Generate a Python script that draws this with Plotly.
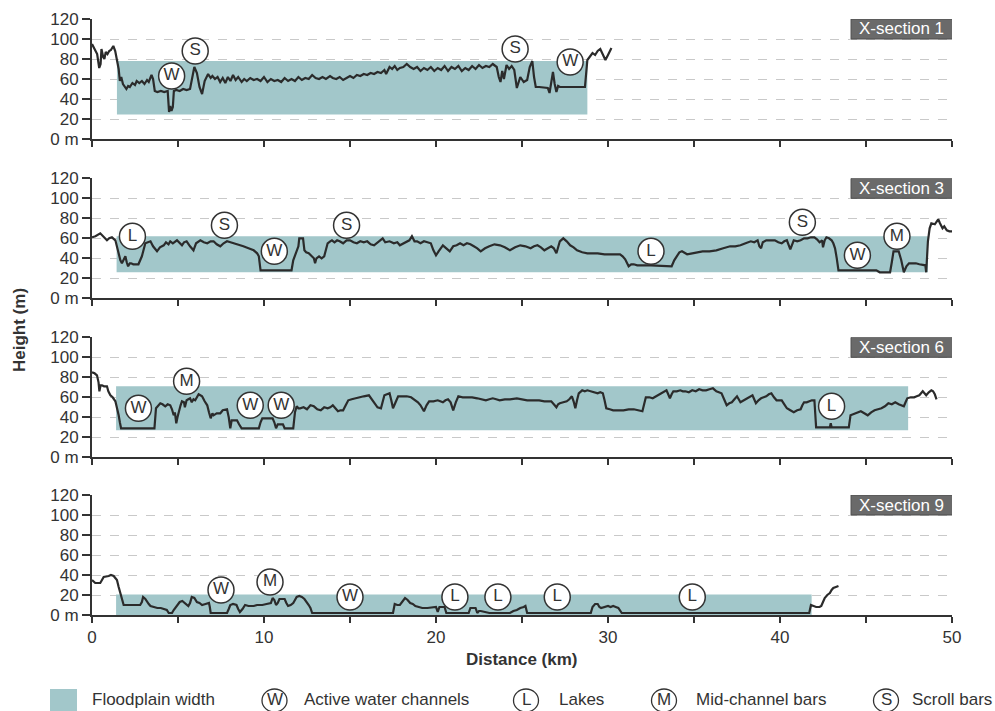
import plotly.graph_objects as go

# ---------------- data ----------------
panel_titles = ["X-section 1", "X-section 3", "X-section 6", "X-section 9"]

# floodplain extents (km) and height band (m)
fp_start = [1.45, 1.43, 1.4, 1.4]
fp_end = [28.8, 48.6, 47.45, 41.84]
fp_bottom = [24.5, 26, 27, 0]
fp_top = [78, 62, 71, 20.5]

# X-section 1 profile
x1 = [0.0, 0.15, 0.3, 0.42, 0.5, 0.55, 0.65, 0.72, 0.8, 0.9, 1.0, 1.1, 1.24, 1.35, 1.45, 1.55, 1.62, 1.7, 1.8, 1.9,
      2.0, 2.1, 2.2, 2.35, 2.5, 2.6, 2.75, 2.9, 3.05, 3.2, 3.3, 3.46, 3.55, 3.65, 3.8, 4.0, 4.2, 4.4, 4.48, 4.55,
      4.62, 4.7, 4.76, 4.9, 5.1, 5.3, 5.5, 5.7, 5.8, 5.95, 6.1, 6.25, 6.4, 6.55, 6.75, 6.9, 7.0, 7.15, 7.3, 7.45,
      7.6, 7.75, 7.9, 8.05, 8.2, 8.35, 8.5, 8.7, 8.85, 9.0, 9.2, 9.4, 9.6, 9.8, 10.0, 10.2, 10.4, 10.6, 10.8, 11.0,
      11.2, 11.4, 11.6, 11.8, 12.0, 12.2, 12.4, 12.6, 12.8, 13.0, 13.2, 13.4, 13.6, 13.84, 14.0, 14.2, 14.4, 14.6,
      14.8, 15.0, 15.2, 15.4, 15.6, 15.8, 16.0, 16.2, 16.4, 16.6, 16.8, 17.0, 17.1, 17.3, 17.45, 17.6, 17.75, 17.9,
      18.1, 18.3, 18.5, 18.7, 18.9, 19.1, 19.3, 19.5, 19.7, 19.9, 20.1, 20.3, 20.5, 20.7, 20.9, 21.1, 21.3, 21.5,
      21.7, 21.9, 22.1, 22.3, 22.5, 22.7, 22.9, 23.1, 23.3, 23.53, 23.65, 23.75, 23.85, 23.95, 24.1, 24.25, 24.4,
      24.55, 24.7, 24.8, 24.9, 25.1, 25.3, 25.45, 25.6, 25.7, 25.8, 26.0, 26.3, 26.5, 26.6, 26.7, 26.8, 26.9, 27.0,
      27.1, 27.2, 27.6, 28.0, 28.66, 28.8, 29.0, 29.1, 29.25, 29.4, 29.55, 29.7, 29.85, 30.0, 30.2]
y1 = [95, 90, 85, 71, 75, 90, 82, 80, 87, 85, 88, 89, 93, 88, 80, 70, 58, 62, 55, 52,
      50, 53, 52, 56, 54, 58, 56, 58, 55, 59, 57, 64, 60, 48, 47, 48, 47, 48, 27, 33,
      28, 32, 48, 49, 48, 50, 49, 50, 60, 72, 66, 52, 45, 58, 65, 61, 63, 60, 62, 57,
      61, 56, 62, 58, 64, 59, 62, 57, 60, 58, 61, 59, 60, 58, 62, 57, 60, 58, 59, 57,
      61, 58, 60, 58, 62, 59, 61, 60, 64, 61, 60, 62, 60, 63, 61, 60, 62, 59,
      61, 63, 61, 64, 63, 65, 64, 66, 65, 67, 66, 69, 65, 72, 70, 73, 69, 71,
      72, 75, 72, 70, 72, 68, 71, 69, 72, 68, 71, 69, 73, 68, 72, 70, 73, 68,
      71, 69, 73, 70, 74, 71, 73, 72, 75, 72, 62, 57, 68, 60, 74, 70, 73,
      69, 51, 58, 62, 57, 59, 72, 78, 62, 52, 52, 51, 51, 46, 56, 67, 55, 47,
      53, 52, 52, 52, 52, 79, 83, 86, 84, 88, 90, 85, 79, 84, 91]

# X-section 3 profile
x2 = [0, 0.2, 0.48, 0.65, 0.87, 1.0, 1.16, 1.36, 1.45, 1.55, 1.65, 1.74, 1.85, 1.94, 2.02, 2.1, 2.2, 2.27, 2.4, 2.7,
      2.9, 3.0, 3.1, 3.25, 3.4, 3.55, 3.78, 3.95, 4.17, 4.3, 4.45, 4.55, 4.7, 4.94, 5.1, 5.23, 5.35, 5.5, 5.7, 5.9,
      6.05, 6.3, 6.5, 6.7, 6.9, 7.07, 7.25, 7.46, 7.65, 7.85, 8.05, 8.24, 8.5, 8.8, 9.1, 9.4, 9.6, 9.7, 9.8, 10.5,
      11.0, 11.6, 11.7, 11.9, 12.0, 12.05, 12.27, 12.35, 12.45, 12.6, 12.7, 12.8, 12.9, 12.97, 13.05, 13.2, 13.35,
      13.5, 13.6, 13.7, 13.85, 13.95, 14.1, 14.25, 14.4, 14.6, 14.8, 15.0, 15.2, 15.4, 15.6, 15.8, 16.0, 16.2, 16.4,
      16.6, 16.75, 16.9, 17.05, 17.3, 17.55, 17.75, 17.9, 18.1, 18.3, 18.45, 18.6, 18.75, 18.9, 19.1, 19.3, 19.5,
      19.7, 19.85, 20.0, 20.15, 20.4, 20.6, 20.8, 21.0, 21.2, 21.4, 21.6, 21.8, 22.0, 22.2, 22.4, 22.6, 22.85, 23.1,
      23.4, 23.72, 24.0, 24.3, 24.6, 24.9, 25.2, 25.5, 25.7, 25.9, 26.1, 26.3, 26.5, 26.7, 26.85, 27.0, 27.2, 27.4,
      27.6, 27.8, 28.0, 28.2, 28.5, 28.8, 29.1, 29.4, 29.8, 30.1, 30.4, 30.7, 30.85, 31.0, 31.2, 31.35, 31.5, 31.7,
      32.5, 33.7, 33.85, 34.0, 34.15, 34.3, 34.6, 34.9, 35.2, 35.5, 35.9, 36.3, 36.7, 37.1, 37.4, 37.7, 38.0, 38.3,
      38.5, 38.7, 38.8, 38.9, 39.0, 39.2, 39.45, 39.7, 39.9, 40.1, 40.25, 40.4, 40.6, 40.8, 41.0, 41.2, 41.4, 41.6,
      41.8, 42.0, 42.15, 42.3, 42.45, 42.5, 42.6, 42.7, 42.85, 43.0, 43.1, 43.2, 43.3, 43.4, 44.5, 45.6, 45.8, 46.4,
      46.5, 46.6, 46.9, 47.05, 47.2, 47.35, 47.5, 47.9, 48.1, 48.3, 48.45, 48.5, 48.6, 48.7, 48.8, 49.0, 49.2, 49.3,
      49.45, 49.55, 49.7, 49.85, 50.0]
y2 = [61, 62, 65, 62, 58, 60, 61, 58, 52, 45, 38, 35, 40, 42, 36, 32, 35, 35, 34, 34,
      42, 50, 55, 56, 57, 52, 47, 51, 53, 56, 54, 57, 55, 58, 55, 53, 56, 57, 52, 48,
      55, 58, 56, 55, 57, 57, 54, 52, 55, 57, 56, 55, 54, 52, 50, 48, 45, 42, 28, 28,
      28, 28, 38, 48, 52, 60, 60, 48, 46, 45, 43, 42, 40, 35, 40, 42, 40,
      42, 48, 55, 57, 58, 56, 58, 57, 55, 58, 58, 56, 55, 57, 56, 57, 54, 53,
      56, 58, 60, 56, 57, 55, 56, 53, 55, 57, 58, 62, 57, 57, 55, 57, 56,
      55, 48, 43, 47, 53, 50, 47, 52, 53, 55, 53, 55, 54, 52, 50, 47, 50, 52,
      54, 53, 51, 48, 51, 53, 52, 50, 52, 53, 51, 48, 50, 52, 50, 45, 57, 60,
      57, 53, 51, 48, 46, 45, 45, 45, 44, 44, 44, 44, 42, 39, 32, 34, 34, 33,
      33, 32, 38, 42, 46, 47, 44, 45, 46, 47, 47, 48, 50, 52, 52, 53, 55, 57,
      56, 58, 52, 50, 56, 58, 58, 58, 56, 55, 57, 58, 49, 58, 57, 58, 60, 60,
      61, 61, 59, 56, 58, 51, 58, 61, 60, 58, 55, 50, 40, 28, 28, 28, 26, 26,
      36, 47, 47, 38, 26, 32, 35, 35, 34, 33, 33, 26, 57, 70, 75, 74, 79, 75,
      70, 72, 68, 67, 67]

# X-section 6 profile
x3 = [0, 0.15, 0.29, 0.38, 0.43, 0.5, 0.58, 0.7, 0.87, 0.95, 1.07, 1.2, 1.36, 1.45, 1.55, 1.62, 1.69, 2.5, 3.63, 3.72,
      3.85, 3.97, 4.1, 4.26, 4.4, 4.55, 4.65, 4.75, 4.82, 4.9, 4.97, 5.04, 5.15, 5.23, 5.35, 5.4, 5.5, 5.6, 5.7, 5.8,
      5.9, 6.0, 6.1, 6.2, 6.3, 6.4, 6.55, 6.7, 6.8, 6.9, 7.0, 7.07, 7.25, 7.46, 7.6, 7.85, 7.95, 8.04, 8.12, 8.24,
      8.43, 8.55, 8.7, 9.2, 9.7, 9.8, 9.9, 10.5, 10.6, 10.7, 10.8, 11.1, 11.2, 11.3, 11.7, 11.8, 11.9, 12.0, 12.1,
      12.3, 12.5, 12.7, 12.9, 13.1, 13.3, 13.5, 13.7, 13.85, 14.0, 14.15, 14.3, 14.45, 14.6, 14.75, 14.9, 15.1, 15.3,
      15.5, 15.8, 16.1, 16.25, 16.4, 16.6, 16.8, 16.9, 17.0, 17.15, 17.3, 17.4, 17.5, 17.65, 17.8, 18.05, 18.3,
      18.55, 18.8, 18.95, 19.1, 19.2, 19.3, 19.45, 19.6, 19.85, 20.1, 20.25, 20.4, 20.55, 20.7, 20.85, 21.0, 21.15,
      21.3, 21.55, 21.8, 22.1, 22.4, 22.65, 22.9, 23.1, 23.3, 23.5, 23.7, 24.0, 24.3, 24.7, 25.0, 25.3, 25.7, 26.0,
      26.3, 26.7, 26.85, 27.0, 27.1, 27.2, 27.4, 27.6, 27.75, 27.9, 28.0, 28.1, 28.2, 28.3, 28.5, 28.65, 28.8, 29.0,
      29.1, 29.25, 29.4, 29.55, 29.7, 29.8, 29.9, 30.1, 30.3, 30.6, 30.9, 31.2, 31.5, 31.75, 32.0, 32.1, 32.2, 32.4,
      32.6, 32.8, 33.0, 33.2, 33.4, 33.5, 33.6, 33.7, 33.8, 34.0, 34.2, 34.35, 34.5, 34.7, 34.9, 35.1, 35.3, 35.5,
      35.7, 35.9, 36.1, 36.3, 36.45, 36.6, 36.75, 36.9, 37.05, 37.2, 37.35, 37.5, 37.6, 37.7, 37.9, 38.1, 38.25,
      38.4, 38.5, 38.6, 38.75, 38.9, 39.05, 39.2, 39.35, 39.5, 39.65, 39.8, 40.0, 40.1, 40.25, 40.4, 40.6, 40.8,
      41.0, 41.2, 41.3, 41.4, 41.55, 41.7, 41.85, 42.0, 42.1, 42.6, 42.9, 42.95, 43.0, 43.5, 44.0, 44.1, 44.25, 44.4,
      44.55, 44.7, 44.9, 45.1, 45.3, 45.5, 45.7, 45.9, 46.1, 46.3, 46.5, 46.7, 46.9, 47.05, 47.2, 47.3, 47.4, 47.6,
      47.8, 47.95, 48.1, 48.2, 48.3, 48.4, 48.5, 48.65, 48.8, 48.9, 49.0, 49.1]
y3 = [85, 84, 82, 75, 66, 72, 72, 71, 71, 66, 62, 60, 56, 50, 42, 35, 29, 29, 29, 49,
      52, 54, 53, 51, 53, 52, 48, 42, 45, 34, 40, 46, 52, 56, 55, 50, 57, 58, 59, 55,
      58, 57, 60, 63, 62, 61, 56, 52, 45, 39, 44, 42, 44, 44, 47, 48, 40, 29, 37, 37,
      37, 33, 29, 29, 29, 35, 39, 39, 35, 29, 33, 33, 29, 29, 29, 45, 51, 49, 49,
      50, 48, 52, 51, 48, 47, 50, 49, 50, 52, 49, 46, 47, 47, 52, 57, 58, 59,
      60, 61, 62, 58, 54, 50, 49, 55, 62, 63, 64, 57, 49, 55, 61, 61, 61,
      60, 57, 55, 52, 49, 46, 52, 56, 56, 57, 56, 55, 57, 58, 55, 47, 55,
      61, 60, 60, 60, 59, 58, 57, 58, 59, 58, 57, 58, 58, 59, 58, 57, 57, 57,
      56, 56, 53, 50, 53, 54, 55, 56, 58, 61, 56, 49, 57, 64, 67, 66, 67, 66,
      65, 64, 64, 65, 64, 57, 49, 48, 47, 47, 47, 48, 48, 47, 46, 53, 60, 60,
      59, 61, 63, 65, 67, 63, 59, 63, 66, 66, 67, 66, 66, 65, 67, 66, 68, 67,
      67, 68, 69, 66, 65, 64, 58, 52, 54, 55, 58, 61, 58, 55, 57, 59, 61,
      62, 58, 54, 57, 59, 60, 61, 63, 64, 60, 57, 57, 57, 53, 49, 47, 45,
      47, 48, 52, 55, 55, 56, 57, 57, 30, 30, 30, 34, 30, 30, 30, 42, 43, 44,
      45, 46, 44, 42, 45, 47, 48, 49, 51, 54, 53, 55, 53, 52, 51, 55, 59, 60,
      60, 61, 62, 64, 66, 64, 62, 65, 67, 66, 63, 58]

# X-section 9 profile
x4 = [0, 0.1, 0.19, 0.48, 0.6, 0.68, 0.97, 1.1, 1.26, 1.45, 1.55, 1.69, 1.75, 1.84, 2.03, 2.4, 2.8, 2.9, 2.97, 3.1,
      3.2, 3.3, 3.4, 3.6, 3.8, 4.0, 4.26, 4.35, 4.46, 4.65, 4.75, 4.85, 4.95, 5.1, 5.25, 5.4, 5.6, 5.7, 5.8, 5.95,
      6.1, 6.25, 6.4, 6.6, 6.8, 6.85, 6.9, 7.4, 7.85, 7.95, 8.04, 8.2, 8.4, 8.5, 8.6, 8.75, 8.9, 9.1, 9.4, 9.6, 9.9,
      10.15, 10.4, 10.5, 10.6, 10.7, 10.8, 10.9, 11.05, 11.2, 11.3, 11.4, 11.55, 11.7, 11.8, 11.9, 12.05, 12.2,
      12.35, 12.5, 12.6, 12.7, 12.8, 14.0, 15.5, 17.5, 17.6, 17.75, 17.9, 18.05, 18.2, 18.35, 18.5, 18.65, 18.8,
      19.0, 19.2, 19.5, 19.8, 20.0, 20.1, 20.2, 20.5, 20.6, 21.2, 21.9, 22.0, 22.3, 22.4, 22.5, 22.6, 22.8, 22.9,
      23.1, 24.3, 24.5, 24.7, 24.9, 25.1, 25.2, 25.3, 27.0, 29.0, 29.1, 29.25, 29.4, 29.5, 29.6, 29.8, 30.0, 30.15,
      30.3, 30.45, 30.6, 30.8, 35.0, 41.7, 41.8, 41.95, 42.1, 42.3, 42.4, 42.5, 42.6, 42.75, 42.9, 43.0, 43.1,
      43.25, 43.4]
y4 = [35, 33, 32, 32, 35, 38, 39, 40, 39, 35, 28, 20, 14, 10, 10, 10, 10, 13, 18, 16,
      13, 11, 9, 8, 7, 7, 5, 5, 2, 2, 5, 7, 10, 13, 14, 12, 9, 12, 18, 17,
      13, 12, 10, 11, 12, 8, 2, 2, 2, 6, 10, 11, 10, 6, 3, 6, 10, 9, 9, 10, 10,
      11, 12, 17, 15, 10, 12, 16, 16, 16, 12, 9, 10, 12, 15, 18, 19, 18,
      16, 13, 10, 7, 2, 2, 2, 2, 11, 10, 10, 14, 17, 15, 12, 11, 9,
      8, 7, 7, 8, 8, 3, 8, 8, 2, 2, 2, 7, 7, 2, 4, 4, 3, 3,
      2, 2, 4, 5, 7, 8, 9, 2, 2, 2, 8, 11, 11, 8, 7, 8, 9, 8,
      9, 8, 7, 2, 2, 2, 10, 9, 8, 8, 9, 13, 17, 20, 22, 25, 27,
      28, 29]

# feature labels (W: active water channels, L: lakes, M: mid-channel bars, S: scroll bars)
lab1_x = [4.63, 6.0, 24.6, 27.8]
lab1_y = [63, 88, 90, 77]
lab1_t = ["W", "S", "S", "W"]
lab2_x = [2.35, 7.7, 10.6, 14.8, 32.5, 41.3, 44.5, 46.8]
lab2_y = [62, 73, 47, 73, 47, 76, 43, 62]
lab2_t = ["L", "S", "W", "S", "L", "S", "W", "M"]
lab3_x = [2.7, 5.5, 9.2, 11.0, 43.0]
lab3_y = [49, 76, 52, 52, 51]
lab3_t = ["W", "M", "W", "W", "L"]
lab4_x = [7.5, 10.35, 15.0, 21.1, 23.6, 27.05, 34.9]
lab4_y = [25, 33, 18, 18, 18, 18, 18]
lab4_t = ["W", "M", "W", "L", "L", "L", "L"]

x_tick_vals = [0, 5, 10, 15, 20, 25, 30, 35, 40, 45, 50]
x_tick_text = ["0", "", "10", "", "20", "", "30", "", "40", "", "50"]
y_tick_vals = [0, 20, 40, 60, 80, 100, 120]
y_tick_text = ["0 m", "20", "40", "60", "80", "100", "120"]

legend_letters = ["W", "L", "M", "S"]
legend_labels = ["Active water channels", "Lakes", "Mid-channel bars", "Scroll bars"]

# ---------------- styling ----------------
FONT = "Liberation Sans, Arial, Helvetica, sans-serif"
DARK = "#333333"
TEAL = "#a2c7ca"
W, H = 995, 711

profiles_x = [x1, x2, x3, x4]
profiles_y = [y1, y2, y3, y4]
labels = [(lab1_x, lab1_y, lab1_t), (lab2_x, lab2_y, lab2_t),
          (lab3_x, lab3_y, lab3_t), (lab4_x, lab4_y, lab4_t)]

x_dom = [92 / W, 952 / W]
y_pix = [(19, 139), (178.3, 298.3), (337.3, 457.3), (495, 615)]

fig = go.Figure()
annotations = []
shapes = []

for i in range(4):
    xa = "x" if i == 0 else f"x{i+1}"
    ya = "y" if i == 0 else f"y{i+1}"
    # floodplain band
    fig.add_trace(go.Scatter(
        x=[fp_start[i], fp_end[i], fp_end[i], fp_start[i], fp_start[i]],
        y=[fp_bottom[i], fp_bottom[i], fp_top[i], fp_top[i], fp_bottom[i]],
        fill="toself", fillcolor=TEAL, mode="lines", line=dict(width=0, color=TEAL),
        xaxis=xa, yaxis=ya, showlegend=False, hoverinfo="skip"))
    # profile
    fig.add_trace(go.Scatter(
        x=profiles_x[i], y=profiles_y[i], mode="lines",
        line=dict(color="#2b2b2b", width=2.2),
        xaxis=xa, yaxis=ya, showlegend=False, cliponaxis=False))
    # feature labels
    lx, ly, lt = labels[i]
    fig.add_trace(go.Scatter(
        x=lx, y=ly, text=lt, mode="markers+text", textposition="middle center",
        marker=dict(size=26, color="white", line=dict(color=DARK, width=1.5)),
        textfont=dict(family=FONT, size=17, color=DARK),
        xaxis=xa, yaxis=ya, showlegend=False, cliponaxis=False))

    y0p, y1p = y_pix[i]
    dom = [1 - y1p / H, 1 - y0p / H]
    last = (i == 3)
    fig.update_layout(**{
        ("xaxis" if i == 0 else f"xaxis{i+1}"): dict(
            domain=x_dom, anchor=ya, range=[0, 50], showgrid=False, zeroline=False,
            showline=True, linecolor=DARK, linewidth=2,
            ticks="outside", ticklen=6, tickwidth=2, tickcolor=DARK,
            tickvals=x_tick_vals, ticktext=x_tick_text if last else [""] * len(x_tick_vals),
            showticklabels=last, tickfont=dict(family=FONT, size=17, color=DARK)),
        ("yaxis" if i == 0 else f"yaxis{i+1}"): dict(
            domain=dom, anchor=xa, range=[0, 120], zeroline=False,
            showline=True, linecolor=DARK, linewidth=2,
            ticks="outside", ticklen=8, tickwidth=2, tickcolor=DARK,
            tickvals=y_tick_vals, ticktext=y_tick_text,
            showgrid=True, gridcolor="#c9c9c9", griddash="dash", gridwidth=1,
            tickfont=dict(family=FONT, size=17, color=DARK)),
    })
    # section label box
    shapes.append(dict(type="rect", xref=xa, yref=ya, x0=44.13, x1=50.05, y0=100, y1=120,
                       fillcolor="#6a6a6a", line=dict(color="#4d4d4d", width=1), layer="above"))
    annotations.append(dict(xref=xa, yref=ya, x=47.09, y=110, text=panel_titles[i],
                            showarrow=False, font=dict(family=FONT, size=17, color="white"),
                            xanchor="center", yanchor="middle"))

# axis titles
annotations.append(dict(xref="paper", yref="paper", x=521 / W, y=1 - 659 / H, text="<b>Distance (km)</b>",
                        showarrow=False, font=dict(family=FONT, size=17, color=DARK),
                        xanchor="center", yanchor="middle"))
annotations.append(dict(xref="paper", yref="paper", x=19 / W, y=1 - 330 / H, text="<b>Height (m)</b>",
                        showarrow=False, textangle=-90, font=dict(family=FONT, size=17, color=DARK),
                        xanchor="center", yanchor="middle"))

# legend (drawn manually)
leg_y = 699
shapes.append(dict(type="rect", xref="paper", yref="paper", x0=50 / W, x1=77 / W,
                   y0=1 - 711 / H, y1=1 - 689 / H, fillcolor=TEAL, line=dict(width=0)))
annotations.append(dict(xref="paper", yref="paper", x=90 / W, y=1 - leg_y / H, text="Floodplain width",
                        showarrow=False, font=dict(family=FONT, size=17, color=DARK),
                        xanchor="left", yanchor="middle"))
circ_cx = [274.5, 526, 664, 886]
text_x = [302, 557, 694, 910]
for cx, tx, letter, lab in zip(circ_cx, text_x, legend_letters, legend_labels):
    shapes.append(dict(type="circle", xref="paper", yref="paper",
                       x0=(cx - 12.5) / W, x1=(cx + 12.5) / W,
                       y0=1 - (leg_y + 13) / H, y1=1 - (leg_y - 10) / H,
                       line=dict(color=DARK, width=1.3), fillcolor="white"))
    annotations.append(dict(xref="paper", yref="paper", x=cx / W, y=1 - leg_y / H, text=letter,
                            showarrow=False, font=dict(family=FONT, size=17, color=DARK),
                            xanchor="center", yanchor="middle"))
    annotations.append(dict(xref="paper", yref="paper", x=tx / W, y=1 - leg_y / H, text=lab,
                            showarrow=False, font=dict(family=FONT, size=17, color=DARK),
                            xanchor="left", yanchor="middle"))

fig.update_layout(
    width=W, height=H,
    margin=dict(l=0, r=0, t=0, b=0, autoexpand=False),
    paper_bgcolor="white", plot_bgcolor="white",
    annotations=annotations, shapes=shapes,
    font=dict(family=FONT, color=DARK),
)

fig.write_html("out.html", config={"displayModeBar": False},
               post_script="document.body.style.margin='0';")
